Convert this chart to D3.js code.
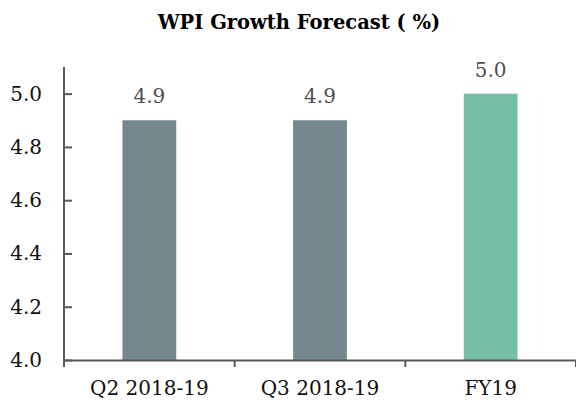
<!DOCTYPE html>
<html><head><meta charset="utf-8">
<script src="https://cdn.jsdelivr.net/npm/d3@7"></script>
<style>html,body{margin:0;padding:0;background:#fff;}svg{display:block;}</style>
</head><body>
<script>
const categories = ["Q2 2018-19", "Q3 2018-19", "FY19"];
const values = [4.9, 4.9, 5.0];
const barColors = ["#72888c", "#72888c", "#76bfa7"];
const yTicks = [4.0, 4.2, 4.4, 4.6, 4.8, 5.0];
const title = "WPI Growth Forecast ( %)";

const W = 576, H = 404;
const m = {left: 64, right: 0, top: 67, bottom: 44};
const font = "'DejaVu Serif', 'Liberation Serif', serif";
const svg = d3.select("body").append("svg").attr("width", W).attr("height", H);

const x = d3.scaleBand().domain(categories).range([m.left, W - m.right]).paddingInner(0.685).paddingOuter(0.3425);
const y = d3.scaleLinear().domain([4.0, 5.1]).range([H - m.bottom, m.top]);

svg.append("text").attr("x", 299).attr("y", 29).attr("text-anchor", "middle")
  .attr("font-family", font).attr("font-weight", "bold").attr("font-size", 19.5).attr("fill", "#000").text(title);

svg.selectAll("rect.bar").data(values).join("rect").attr("class", "bar")
  .attr("x", (d, i) => x(categories[i])).attr("width", x.bandwidth())
  .attr("y", d => y(d)).attr("height", d => y(4.0) - y(d))
  .attr("fill", (d, i) => barColors[i]);

svg.selectAll("text.lbl").data(values).join("text").attr("class", "lbl")
  .attr("x", (d, i) => x(categories[i]) + x.bandwidth() / 2).attr("y", d => y(d) - 17)
  .attr("text-anchor", "middle").attr("font-family", font).attr("font-size", 20).attr("fill", "#505050")
  .text(d => d.toFixed(1));

const axColor = "#5a5a5a";
const yAxis = svg.append("g").attr("transform", `translate(${m.left},0)`)
  .call(d3.axisLeft(y).tickValues(yTicks).tickFormat(d3.format(".1f")).tickSize(-8).tickPadding(22).tickSizeOuter(0));
const xAxis = svg.append("g").attr("transform", `translate(0,${H - m.bottom})`)
  .call(d3.axisBottom(x.copy().paddingInner(0).paddingOuter(0)).tickSize(7).tickSizeOuter(0).tickPadding(0).tickFormat(d => ""));
[yAxis, xAxis].forEach(g => {
  g.select(".domain").attr("stroke", axColor).attr("stroke-width", 2);
  g.selectAll(".tick line").attr("stroke", axColor).attr("stroke-width", 2);
  g.selectAll("text").attr("font-family", font).attr("font-size", 20).attr("fill", "#111");
});
xAxis.selectAll(".tick").remove();
const bounds = [m.left, ...categories.map(c => x(c) - x.step() * x.paddingInner() / 2 + x.step())];
xAxis.selectAll("line.b").data(bounds).join("line").attr("class", "b")
  .attr("x1", d => d).attr("x2", d => d).attr("y1", 0).attr("y2", 7)
  .attr("stroke", axColor).attr("stroke-width", 2);
xAxis.selectAll("text.c").data(categories).join("text").attr("class", "c")
  .attr("x", d => x(d) + x.bandwidth() / 2).attr("y", 35).attr("text-anchor", "middle")
  .attr("font-family", font).attr("font-size", 20).attr("fill", "#111").text(d => d);
yAxis.select(".domain").attr("d", `M0,${y(4.0)}V${m.top}`);
</script>
</body></html>
